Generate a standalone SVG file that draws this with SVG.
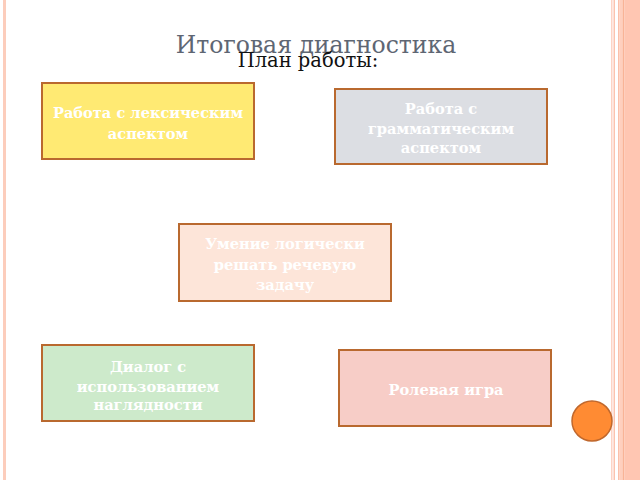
<svg xmlns="http://www.w3.org/2000/svg" width="640" height="480" viewBox="0 0 640 480">
<style>
.box{stroke:#B9692F;stroke-width:2}
.t{font-family:"DejaVu Serif","Liberation Serif",serif;font-weight:bold;font-size:14.6px;fill:#FFFFFF;text-anchor:middle}
</style>
<rect width="640" height="480" fill="#FFFFFF"/>
<g id="border">
<rect x="3" y="0" width="3" height="480" fill="#FCCDBC"/>
<rect x="611" y="0" width="1.5" height="480" fill="#FDD3C5"/>
<rect x="613.5" y="0" width="1.5" height="480" fill="#FBC3AF"/>
<rect x="618" y="0" width="1.5" height="480" fill="#FBC0AA"/>
<rect x="619.5" y="0" width="3" height="480" fill="#FFCFBE"/>
<rect x="622.5" y="0" width="2" height="480" fill="#F9B396"/>
<rect x="624.5" y="0" width="15.5" height="480" fill="#FFC6B2"/>
</g>
<g id="title">
<text x="316" y="53" font-family="DejaVu Serif,Liberation Serif,serif" font-size="23.5" fill="#5E6673" text-anchor="middle">Итоговая диагностика</text>
<text x="308" y="67" font-family="DejaVu Serif,Liberation Serif,serif" font-size="19.5" fill="#111111" text-anchor="middle">План работы:</text>
</g>
<g id="node1">
<rect class="box" x="42" y="83" width="212" height="76" fill="#FFEA73"/>
<text class="t" x="148" y="118">Работа с лексическим</text>
<text class="t" x="148" y="139">аспектом</text>
</g>
<g id="node2">
<rect class="box" x="335" y="89" width="212" height="75" fill="#DCDEE3"/>
<text class="t" x="441" y="114">Работа с</text>
<text class="t" x="441" y="134">грамматическим</text>
<text class="t" x="441" y="153">аспектом</text>
</g>
<g id="node3">
<rect class="box" x="179" y="224" width="212" height="77" fill="#FDE5D9"/>
<text class="t" x="285" y="249">Умение логически</text>
<text class="t" x="285" y="270">решать речевую</text>
<text class="t" x="285" y="290">задачу</text>
</g>
<g id="node4">
<rect class="box" x="42" y="345" width="212" height="76" fill="#CDEACB"/>
<text class="t" x="148" y="372">Диалог с</text>
<text class="t" x="148" y="392">использованием</text>
<text class="t" x="148" y="410">наглядности</text>
</g>
<g id="node5">
<rect class="box" x="339" y="350" width="212" height="76" fill="#F7CDC7"/>
<text class="t" x="446" y="395">Ролевая игра</text>
</g>
<g id="button">
<circle cx="592" cy="421" r="20" fill="#FF8B33" stroke="#C0682D" stroke-width="1.5"/>
</g>
<g id="connectors"/>
</svg>
